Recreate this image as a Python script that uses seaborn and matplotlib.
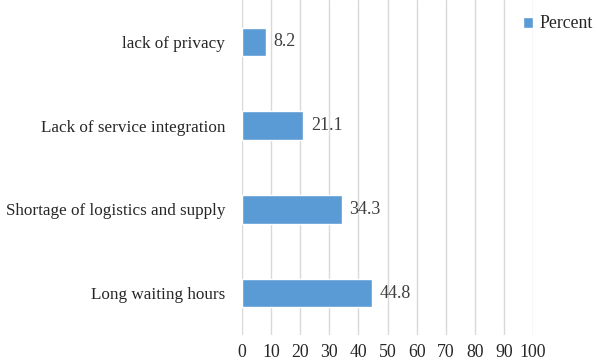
import seaborn as sns
import matplotlib.pyplot as plt
import pandas as pd

# ---- data ----
categories = ['lack of privacy', 'Lack of service integration',
              'Shortage of logistics and supply', 'Long waiting hours']
percent = [8.2, 21.1, 34.3, 44.8]
x_ticks = [0, 10, 20, 30, 40, 50, 60, 70, 80, 90, 100]

sns.set_theme(style='white')
plt.rcParams['font.family'] = ['Liberation Serif', 'DejaVu Serif']

df = pd.DataFrame({'cat': categories, 'Percent': percent})

fig = plt.figure(figsize=(5.97, 3.62), dpi=100)
ax = fig.add_axes([242 / 597, 1 - 335 / 362, (533 - 242) / 597, 335 / 362])

sns.barplot(data=df, x='Percent', y='cat', order=categories, color='#5B9BD5',
            width=0.34, saturation=1, ax=ax, label='Percent', zorder=3)

for i, v in enumerate(percent):
    ax.text(v + 2.6, i, f'{v}', va='center', ha='left', fontsize=13, color='#404040')

ax.set_xlim(0, 100)
ax.set_xticks(x_ticks)
ax.set_ylim(3.5, -0.5)
ax.grid(axis='x', color='#D9D9D9', linewidth=1, zorder=0)
ax.set_xlabel('')
ax.set_ylabel('')
ax.tick_params(axis='both', length=0, colors='#262626')
ax.tick_params(axis='x', pad=6.5, labelsize=12.8)
ax.tick_params(axis='y', pad=12, labelsize=12.3)
for s in ax.spines.values():
    s.set_visible(False)

ax.legend(loc='upper left', bbox_to_anchor=(0.94, 0.975), frameon=False,
          fontsize=12.8, handlelength=0.6, handleheight=0.6, handletextpad=0.35,
          borderaxespad=0)

fig.savefig('out.png', dpi=100)
